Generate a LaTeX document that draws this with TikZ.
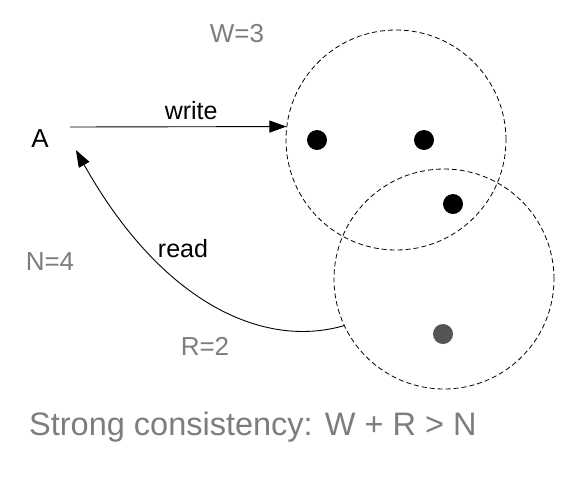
\documentclass[tikz,border=0pt]{standalone}
\usepackage{fontspec}
\setmainfont{Liberation Sans}
\usetikzlibrary{arrows.meta}
\definecolor{labelgray}{RGB}{125,125,125}
\definecolor{dotgray}{RGB}{85,85,85}
\tikzset{
  quorum/.style = {draw, dashed, dash pattern=on 5pt off 3pt, circle,
    minimum size=220pt, inner sep=0pt, line width=0.8pt},
  replica/.style = {circle, fill=#1, minimum size=20pt, inner sep=0pt},
  replica/.default = {black},
  lbl/.style = {text=labelgray, font=\fontsize{26}{29}\selectfont, inner sep=0pt},
  txt/.style = {font=\fontsize{25}{28}\selectfont, inner sep=0pt},
  arr/.style = {line width=0.9pt, -{Triangle[length=17pt,width=12pt]}}
}

\begin{document}
\begin{tikzpicture}[x=1pt, y=-1pt]
      \useasboundingbox (0,0) rectangle (578,488);
      % the two overlapping quorums
      \node[quorum] (r1) at (396,140) {};
      \node[quorum] (r2) at (444,279) {};
      % replicas
      \foreach \n/\x/\y in {d1/317/140, d2/424/140, d3/453/204} {
        \node[replica] (\n) at (\x,\y) {};
      }
      \node[replica=dotgray] (d4) at (443,334) {};

      % client
      \node[txt, font=\fontsize{26}{29}\selectfont] (a) at (40,139) {A};
      \draw[arr] ([shift={(21,-12)}]a.east) -- (r1.173)
        node[txt, pos=0.56, above=7pt] (write) {write};
      \draw[arr] (r2.205) .. controls +(-83,24) and +(84,150) .. ([shift={(27,11)}]a.east);
      \node[txt] (read) at (183,249) {read};

      % quorum sizes
      \node[lbl] (w) at (237,34) {W=3};
      \node[lbl] (n) at (50,262) {N=4};
      \node[lbl] (r) at (205,346) {R=2};
      \node[lbl, font=\fontsize{32.5}{36}\selectfont, anchor=west] (rule) at (29,427)
        {Strong consistency: W + R > N};
\end{tikzpicture}
\end{document}
